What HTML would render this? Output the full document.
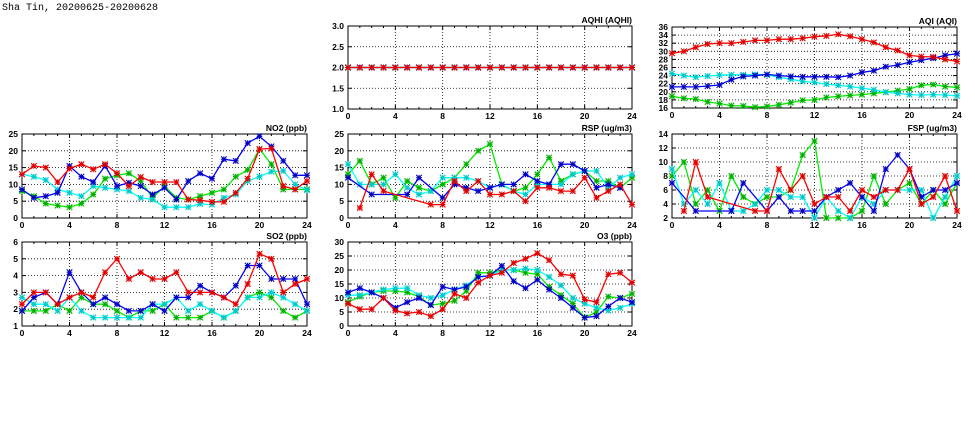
<!DOCTYPE html>
<html><head><meta charset="utf-8">
<style>
html,body{margin:0;padding:0;background:#fff;}
svg{display:block;}
text{font-family:"Liberation Sans",sans-serif;font-weight:bold;font-size:8.5px;fill:#000;}
</style></head>
<body>
<svg id="s" width="975" height="447" xmlns="http://www.w3.org/2000/svg">
<text x="2" y="10" style="font-family:'Liberation Mono',monospace;font-weight:normal;font-size:10px">Sha Tin, 20200625-20200628</text>
</svg>
<script>
var N=null;
var panels=[
 {t:"AQHI (AQHI)",x0:348,x1:632,y0:26,y1:109,min:1,max:3,step:0.5,fmt:1,
  s:{g:Array(25).fill(2),c:Array(25).fill(2),b:Array(25).fill(2),r:Array(25).fill(2)}},
 {t:"AQI (AQI)",x0:672,x1:957,y0:27,y1:108,min:16,max:36,step:2,fmt:0,
  s:{r:[29.5,30,31,31.8,32,32,32.3,32.7,32.7,33,33,33.2,33.6,33.8,34.2,33.7,33,32.2,31,30.2,29,28.7,28.6,28,27.5],
     b:[21.2,21.2,21.2,21.4,21.7,23,23.8,24,24.3,24,23.8,23.7,23.7,23.7,23.6,24,24.8,25.2,26.2,26.6,27.3,27.8,28.3,29,29.4],
     c:[24.5,24,23.6,23.9,24.1,24.2,24.2,24.3,24.2,23.6,23.1,22.6,22.3,21.9,21.6,21.3,20.9,20.5,19.9,19.6,19.3,19.2,19.3,19.2,19],
     g:[18.9,18.4,18.2,17.5,17.1,16.6,16.5,16.2,16.4,16.8,17.3,17.9,18,18.6,18.9,19.1,19.3,19.6,19.9,20.3,20.7,21.6,21.8,21.3,21.1]}},
 {t:"NO2 (ppb)",x0:22,x1:307,y0:134,y1:218,min:0,max:25,step:5,fmt:0,
  s:{g:[8,6.5,4.3,3.7,3.2,4.3,7,11.7,12.7,13.3,11,6,9.5,6,5.5,6.5,7.5,8.5,12.3,14.3,20.5,16,8.5,8.5,8.5],
     c:[13,12.3,11.3,8.5,7.5,6.5,9.5,9,8.5,8,6,5.5,3.2,3.2,3.2,4.2,4,6,7,11,12.3,13.8,14,10,8.3],
     b:[8.5,6,6.5,7.5,15.5,12.3,10.7,15.5,9.5,10.5,9.5,7,9,5.5,11,13.3,11.7,17.5,17,22.3,24.3,21.3,17,12.7,12.7],
     r:[13,15.5,15,10.7,14.7,16,14.5,16,13.3,9.5,12.2,10.7,10.7,10.7,5.5,5.3,4.8,4.8,7.5,11.7,20.5,20.7,9.5,8.5,11]}},
 {t:"RSP (ug/m3)",x0:348,x1:632,y0:134,y1:218,min:0,max:25,step:5,fmt:0,
  s:{g:[13,17,10,12,6,11,9,8,10,12,16,20,22,10,8,9,13,18,11,13,14,11,11,9,12],
     c:[16,10,10,10,13,9,7,8,12,12,12,11,9,10,8,7,10,10,10,13,14,14,9,12,13],
     b:[12,N,7,N,N,7,12,N,6,10,9,8,9,10,10,13,11,10,16,16,14,9,10,9,N],
     r:[N,3,13,8,N,N,N,4,4,11,8,11,7,7,8,5,9,9,8,8,12,6,8,10,4]}},
 {t:"FSP (ug/m3)",x0:672,x1:957,y0:134,y1:218,min:2,max:14,step:2,fmt:0,
  s:{g:[8,10,4,6,3,8,5,4,5,5,6,11,13,2,2,2,3,8,4,6,7,4,6,4,7],
     c:[9,4,6,4,7,3,3,4,6,6,5,5,2,5,3,2,5,4,6,6,6,6,2,5,8],
     b:[7,N,3,N,N,3,7,N,3,5,3,3,3,5,6,7,5,3,9,11,9,5,6,6,7],
     r:[N,3,10,5,N,N,N,3,3,9,6,8,4,5,5,3,6,5,6,6,9,4,5,8,3]}},
 {t:"SO2 (ppb)",x0:22,x1:307,y0:242,y1:326,min:1,max:6,step:1,fmt:0,
  s:{g:[1.9,1.9,1.9,2.3,1.9,2.7,2.3,2.3,1.9,1.5,1.9,1.9,2.3,1.5,1.5,1.5,1.9,1.5,1.9,2.7,3,2.7,1.9,1.5,1.9],
     c:[2.7,2.3,2.3,1.9,2.7,1.9,1.5,1.5,1.5,1.5,1.5,2.3,2.3,2.7,1.9,2.3,1.9,1.5,1.9,2.7,2.7,3,2.7,2.3,1.9],
     b:[1.9,2.7,3,2.3,4.2,3,2.3,2.7,2.3,1.9,1.9,2.3,1.9,2.7,2.7,3.4,3,2.7,3.4,4.6,4.6,3.8,3.8,3.8,2.3],
     r:[2.3,3,3,2.3,2.7,3,2.7,4.2,5,3.8,4.2,3.8,3.8,4.2,3,3,3,2.7,2.3,3.5,5.3,5,3,3.5,3.8]}},
 {t:"O3 (ppb)",x0:348,x1:632,y0:242,y1:326,min:0,max:30,step:5,fmt:0,
  s:{g:[8.5,10.5,12,12.5,12.5,12,10.5,7.5,8,9,12.5,19,19,20,20,19,18.5,14,11,8,3,5,10.5,10,11.5],
     c:[11,11,12,13,13.5,13.5,11,10,11,13,14.5,17.5,18,20,20,20.5,20,17.5,14.5,10,8,6.5,5.5,6.5,8],
     b:[12,13.5,12,10,6.5,8.5,10,7.5,14,13,14,17.5,18,21.5,16,13.5,16.5,13,10,6.5,3,3.5,7,10,8.5],
     r:[8,6,6,10,5.5,4.5,5,3.5,6,11.5,10,15.5,18,19,22.5,24,26,23.5,18.5,18,9.5,8.5,18.5,19,15.5]}}
];
var col={r:["#ff0000","#e00000"],b:["#0000ff","#0000c0"],g:["#00ee00","#00b000"],c:["#00ffff","#00c8c8"]};
var h='';
panels.forEach(function(p){
 var W=p.x1-p.x0,H=p.y1-p.y0;
 function X(i){return p.x0+W*i/24;}
 function Y(v){return p.y1-H*(v-p.min)/(p.max-p.min);}
 for(var i=4;i<24;i+=4) h+='<line x1="'+X(i)+'" y1="'+p.y0+'" x2="'+X(i)+'" y2="'+p.y1+'" stroke="#000" stroke-width="0.8" stroke-dasharray="1,2"/>';
 for(var v=p.min+p.step;v<p.max-1e-6;v+=p.step) h+='<line x1="'+p.x0+'" y1="'+Y(v)+'" x2="'+p.x1+'" y2="'+Y(v)+'" stroke="#000" stroke-width="0.8" stroke-dasharray="1,2"/>';
 for(var i=0;i<=24;i++){var l=(i%4==0)?4:2;h+='<line x1="'+X(i)+'" y1="'+p.y1+'" x2="'+X(i)+'" y2="'+(p.y1-l)+'" stroke="#000"/><line x1="'+X(i)+'" y1="'+p.y0+'" x2="'+X(i)+'" y2="'+(p.y0+l)+'" stroke="#000"/>';}
 for(var i=0;i<=24;i+=4) h+='<text x="'+X(i)+'" y="'+(p.y1+10)+'" text-anchor="middle">'+i+'</text>';
 for(var v=p.min;v<=p.max+1e-6;v+=p.step){
  h+='<line x1="'+p.x0+'" y1="'+Y(v)+'" x2="'+(p.x0+4)+'" y2="'+Y(v)+'" stroke="#000"/><line x1="'+p.x1+'" y1="'+Y(v)+'" x2="'+(p.x1-4)+'" y2="'+Y(v)+'" stroke="#000"/>';
  h+='<text x="'+(p.x0-4)+'" y="'+(Y(v)+3)+'" text-anchor="end">'+(p.fmt?v.toFixed(1):Math.round(v))+'</text>';
 }
 h+='<rect x="'+p.x0+'" y="'+p.y0+'" width="'+W+'" height="'+H+'" fill="none" stroke="#000" stroke-width="1"/>';
 h+='<text x="'+p.x1+'" y="'+(p.y0-3)+'" text-anchor="end">'+p.t+'</text>';
 ['g','c','b','r'].forEach(function(k){
  var d=p.s[k];if(!d)return;var pts=[];
  d.forEach(function(v,i){if(v!==null)pts.push([X(i),Y(v)]);});
  h+='<polyline points="'+pts.map(function(q){return q[0].toFixed(1)+','+q[1].toFixed(1);}).join(' ')+'" fill="none" stroke="'+col[k][0]+'" stroke-width="1.3"/>';
  pts.forEach(function(q){var x=q[0],y=q[1],s=2.8;
   h+='<path d="M'+(x-s)+' '+(y-s)+'L'+(x+s)+' '+(y+s)+'M'+(x-s)+' '+(y+s)+'L'+(x+s)+' '+(y-s)+'M'+(x-s)+' '+y+'L'+(x+s)+' '+y+'M'+x+' '+(y-s)+'L'+x+' '+(y+s)+'" stroke="'+col[k][1]+'" stroke-width="1.1"/>';});
 });
});
document.getElementById('s').insertAdjacentHTML('beforeend',h);
</script>
</body></html>
